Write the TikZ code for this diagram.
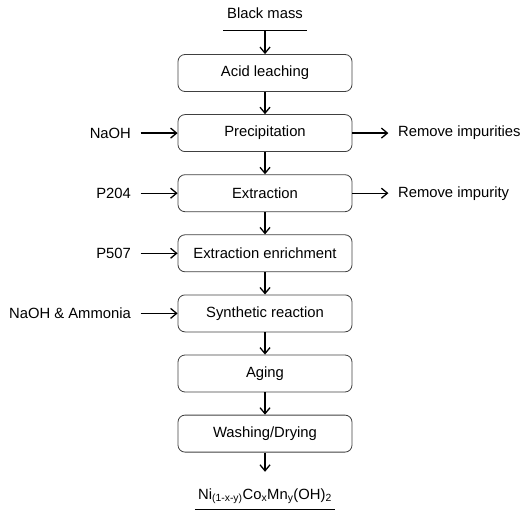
\documentclass[tikz,border=0pt]{standalone}
\usepackage{fontspec}
\setmainfont{Liberation Sans}
\usetikzlibrary{arrows.meta, positioning}
\tikzset{
    procbox/.style={rectangle, draw=black!75, line width=0.8pt, rounded corners=7pt, minimum width=174pt, minimum height=37pt, align=center, font=\fontsize{14.8}{17}\selectfont},
    arrow/.style={line width=1.3pt, -{Straight Barb[length=6pt,width=10pt]}},
    feed/.style={inner ysep=0pt, inner xsep=9.5pt, font=\fontsize{14.8}{17}\selectfont},
    underl/.style={line width=1.2pt}
}
\begin{document}
\begin{tikzpicture}[x=1pt, y=-1pt, node distance=22.3pt]
            \useasboundingbox (0,0) rectangle (524,510);
            \node[feed, anchor=base, minimum width=83pt, inner sep=0pt, text depth=11pt] (black_mass) at (265,19) {Black mass};
            \node[procbox] (leaching) at (265,73) {Acid leaching};
            \node[procbox] (precipitation) [below=of leaching] {Precipitation};
            \node[procbox] (extraction) [below=of precipitation] {Extraction};
            \node[procbox] (enrichment) [below=of extraction] {Extraction enrichment};
            \node[procbox] (synthesis) [below=of enrichment] {Synthetic reaction};
            \node[procbox] (aging) [below=of synthesis] {Aging};
            \node[procbox] (washing) [below=of aging] {Washing/Drying};
            \node[feed, anchor=base, minimum width=140pt, inner sep=0pt, text height=27pt, text depth=10pt] (product) at (265,499) {Ni\textsubscript{(1-x-y)}Co\textsubscript{x}Mn\textsubscript{y}(OH)\textsubscript{2}};

            % reagents on the left
            \node[feed] (naoh) [left=37pt of precipitation] {NaOH};
            \node[feed] (p204) [left=37pt of extraction] {P204};
            \node[feed] (p507) [left=37pt of enrichment] {P507};
            \node[feed] (ammonia) [left=37pt of synthesis] {NaOH \& Ammonia};

            % outputs on the right
            \node[feed] (impurities) [right=36pt of precipitation] {Remove impurities};
            \node[feed] (impurity) [right=36pt of extraction] {Remove impurity};

            \draw[underl] (black_mass.south west) -- (black_mass.south east);
            \draw[underl] (product.south west) -- (product.south east);

            \draw[arrow] (black_mass.south) -- (leaching);
            \draw[arrow] (leaching) -- (precipitation);
            \draw[arrow] (precipitation) -- (extraction);
            \draw[arrow] (extraction) -- (enrichment);
            \draw[arrow] (enrichment) -- (synthesis);
            \draw[arrow] (synthesis) -- (aging);
            \draw[arrow] (aging) -- (washing);
            \draw[arrow] (washing) -- (product);
            \draw[arrow] (naoh) -- (precipitation);
            \draw[arrow] (p204) -- (extraction);
            \draw[arrow] (p507) -- (enrichment);
            \draw[arrow] (ammonia) -- (synthesis);
            \draw[arrow] (precipitation) -- (impurities);
            \draw[arrow] (extraction) -- (impurity);
        \end{tikzpicture}
\end{document}
